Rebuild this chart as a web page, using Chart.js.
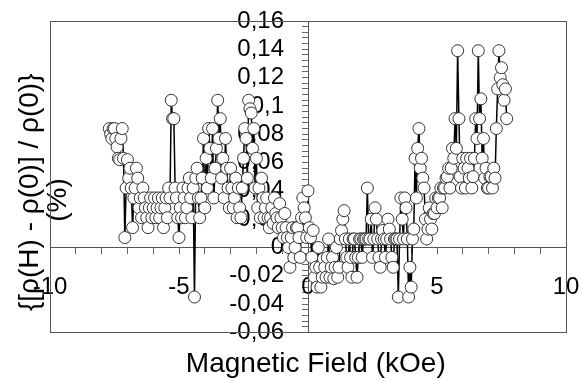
<!DOCTYPE html>
<html>
<head>
<meta charset="utf-8">
<script src="https://cdn.jsdelivr.net/npm/chart.js@4.4.1/dist/chart.umd.min.js"></script>
<style>
html,body{margin:0;padding:0;background:#fff;}
#wrap{width:581px;height:381px;}
</style>
</head>
<body>
<div id="wrap"><canvas id="c" width="581" height="381"></canvas></div>
<script>
// Magnetic field (kOe)
const fieldKOe = [
 -7.7,-7.65,-7.6,-7.55,-7.5,-7.45,-7.4,-7.35,-7.3,-7.25,-7.2,-7.15,-7.1,-7.05,
 -7.0,-6.95,-6.9,-6.85,-6.8,-6.75,-6.7,-6.65,-6.6,-6.55,-6.5,-6.45,-6.4,-6.35,-6.3,-6.25,-6.2,-6.15,-6.1,-6.05,
 -6.0,-5.95,-5.9,-5.85,-5.8,-5.75,-5.7,-5.65,-5.6,-5.55,-5.5,-5.45,-5.4,-5.35,-5.3,-5.25,-5.2,-5.15,-5.1,-5.05,
 -5.0,-4.95,-4.9,-4.85,-4.8,-4.75,-4.7,-4.65,-4.6,-4.55,-4.5,-4.45,-4.4,-4.35,-4.3,-4.25,-4.2,-4.15,-4.1,-4.05,
 -4.0,-3.95,-3.9,-3.85,-3.8,-3.75,-3.7,-3.65,-3.6,-3.55,-3.5,-3.45,-3.4,-3.35,-3.3,-3.25,-3.2,-3.15,-3.1,-3.05,
 -3.0,-2.95,-2.9,-2.85,-2.8,-2.75,-2.7,-2.65,-2.6,-2.55,-2.5,-2.45,-2.4,-2.35,-2.3,-2.25,-2.2,-2.15,-2.1,-2.05,
 -2.0,-1.95,-1.9,-1.85,-1.8,-1.75,-1.7,-1.65,-1.6,-1.55,-1.5,-1.45,-1.4,-1.35,-1.3,-1.25,-1.2,-1.15,-1.1,-1.05,
 -1.0,-0.95,-0.9,-0.85,-0.8,-0.75,-0.7,-0.65,-0.6,-0.55,-0.5,-0.45,-0.4,-0.35,-0.3,-0.25,-0.2,-0.15,-0.1,-0.05,
 0.0,0.05,0.1,0.15,0.2,0.25,0.3,0.35,0.4,0.45,0.5,0.55,0.6,0.65,0.7,0.75,0.8,0.85,0.9,0.95,
 1.0,1.05,1.1,1.15,1.2,1.25,1.3,1.35,1.4,1.45,1.5,1.55,1.6,1.65,1.7,1.75,1.8,1.85,1.9,1.95,
 2.0,2.05,2.1,2.15,2.2,2.25,2.3,2.35,2.4,2.45,2.5,2.55,2.6,2.65,2.7,2.75,2.8,2.85,2.9,2.95,
 3.0,3.05,3.1,3.15,3.2,3.25,3.3,3.35,3.4,3.45,3.5,3.55,3.6,3.65,3.7,3.75,3.8,3.85,3.9,3.95,
 4.0,4.05,4.1,4.15,4.2,4.25,4.3,4.35,4.4,4.45,4.5,4.55,4.6,4.65,4.7,4.75,4.8,4.85,4.9,4.95,
 5.0,5.05,5.1,5.15,5.2,5.25,5.3,5.35,5.4,5.45,5.5,5.55,5.6,5.65,5.7,5.75,5.8,5.85,5.9,5.95,
 6.0,6.05,6.1,6.15,6.2,6.25,6.3,6.35,6.4,6.45,6.5,6.55,6.6,6.65,6.7,6.75,6.8,6.85,6.9,6.95,
 7.0,7.05,7.1,7.15,7.2,7.25,7.3,7.35,7.4,7.45,7.5,7.55,7.6,7.65,7.7
];
// {[rho(H) - rho(0)] / rho(0)} in %
const deltaRho = [
 0.084,0.080,0.077,0.084,0.084,0.077,0.071,0.063,0.062,0.077,0.084,0.063,0.007,0.042,
 0.062,0.049,0.056,0.042,0.014,0.035,0.042,0.056,0.049,0.028,0.035,0.021,0.042,0.035,0.028,0.021,0.014,0.028,0.035,0.021,
 0.028,0.035,0.021,0.028,0.035,0.021,0.028,0.035,0.014,0.028,0.035,0.021,0.042,0.035,0.104,0.091,0.091,0.042,0.035,0.021,
 0.007,0.028,0.021,0.042,0.035,0.021,0.028,0.042,0.049,0.035,0.021,0.042,-0.035,0.049,0.056,0.035,0.021,0.035,0.049,0.077,
 0.028,0.063,0.042,0.084,0.070,0.049,0.084,0.035,0.056,0.070,0.104,0.077,0.091,0.049,0.063,0.035,0.077,0.056,0.042,0.028,
 0.056,0.042,0.028,0.035,0.049,0.021,0.042,0.028,0.021,0.042,0.063,0.084,0.077,0.049,0.104,0.098,0.095,0.070,0.084,0.042,
 0.063,0.028,0.042,0.021,0.049,0.035,0.021,0.028,0.035,0.021,0.014,0.021,0.028,0.017,0.035,0.024,0.021,0.014,0.031,0.021,
 0.014,0.007,0.024,0.014,0.007,0.000,-0.014,0.007,0.014,-0.007,0.000,0.014,0.014,0.007,-0.007,0.021,0.035,0.028,0.021,0.007,
 0.040,0.014,0.007,-0.007,0.012,-0.021,-0.014,-0.028,0.000,-0.014,-0.028,-0.021,-0.008,-0.014,-0.021,-0.007,0.006,-0.021,-0.014,-0.007,
 -0.022,-0.014,0.000,-0.021,-0.014,0.006,0.012,0.020,0.026,0.006,-0.007,-0.014,0.006,-0.007,-0.021,0.006,0.006,-0.007,-0.021,-0.007,
 0.006,0.006,-0.007,0.006,0.006,0.006,0.042,0.006,0.006,0.020,-0.007,0.006,0.028,0.020,0.006,-0.007,-0.014,0.006,0.012,0.006,
 -0.007,0.006,0.020,0.013,0.006,-0.007,-0.014,0.006,0.006,0.006,-0.035,0.006,0.035,0.020,0.006,0.035,0.028,0.006,-0.035,-0.014,
 -0.028,0.006,0.013,0.063,0.035,0.070,0.084,0.056,0.063,0.049,0.042,0.020,0.006,0.013,0.028,0.020,0.013,0.024,0.024,0.035,
 0.028,0.035,0.035,0.042,0.028,0.042,0.042,0.049,0.050,0.056,0.042,0.056,0.070,0.063,0.091,0.070,0.139,0.091,0.050,0.042,
 0.063,0.056,0.042,0.063,0.056,0.049,0.063,0.042,0.050,0.063,0.091,0.077,0.139,0.091,0.105,0.063,0.077,0.049,0.056,0.042,
 0.042,0.050,0.050,0.042,0.056,0.049,0.084,0.112,0.139,0.120,0.127,0.115,0.104,0.112,0.091
];
const xMajorTicks = [-10, -5, 0, 5, 10];
const xTickLabels = ['-10', '-5', '0', '5', '10'];
const yMajorTicks = [-0.06, -0.04, -0.02, 0, 0.02, 0.04, 0.06, 0.08, 0.1, 0.12, 0.14, 0.16];
const yTickLabels = ['-0,06', '-0,04', '-0,02', '0', '0,02', '0,04', '0,06', '0,08', '0,1', '0,12', '0,14', '0,16'];
const xTitle = '  Magnetic Field (kOe)';
const yTitleLines = ['{[ρ(H) - ρ(0)] / ρ(0)}    ', '(%)      '];

const points = fieldKOe.map((x, i) => ({ x: x, y: deltaRho[i] }));

function labelFor(v, majors, labels, suffix) {
  for (let i = 0; i < majors.length; i++) {
    if (Math.abs(v - majors[i]) < 1e-6) return labels[i] + suffix;
  }
  return '';
}

const framePlugin = {
  id: 'frame',
  beforeDatasetsDraw(chart) {
    const { ctx, chartArea: a } = chart;
    ctx.save();
    ctx.strokeStyle = '#555';
    ctx.lineWidth = 1;
    ctx.strokeRect(Math.round(a.left) + 0.5, Math.round(a.top) + 0.5,
                   Math.round(a.right - a.left), Math.round(a.bottom - a.top));
    ctx.restore();
  }
};

const tickFont = { family: 'Liberation Sans', size: 24 };

new Chart(document.getElementById('c'), {
  type: 'scatter',
  data: {
    datasets: [{
      data: points,
      showLine: true,
      borderColor: '#000',
      borderWidth: 1.5,
      pointRadius: 6,
      pointBackgroundColor: '#fff',
      pointBorderColor: '#333',
      pointBorderWidth: 1,
      tension: 0
    }]
  },
  options: {
    responsive: false,
    animation: false,
    devicePixelRatio: 1,
    layout: { padding: { top: 21, right: 15, left: 0, bottom: 0 } },
    plugins: { legend: { display: false }, tooltip: { enabled: false } },
    scales: {
      x: {
        type: 'linear', position: { y: 0 }, min: -10, max: 10, z: 1,
        afterFit: (s) => { s.paddingLeft = 0; s.paddingRight = 0; },
        ticks: {
          stepSize: 1, autoSkip: false, maxRotation: 0, padding: 20, color: '#000', font: tickFont,
          callback: (v) => labelFor(v, xMajorTicks, xTickLabels, '')
        },
        grid: { drawOnChartArea: false, drawTicks: true, tickLength: 6, color: '#666' },
        border: { display: true, color: '#555', width: 1 }
      },
      y: {
        type: 'linear', position: { x: 0 }, min: -0.06, max: 0.16, z: 1,
        ticks: {
          stepSize: 0.004, autoSkip: false, color: '#000', font: tickFont,
          callback: (v) => labelFor(v, yMajorTicks, yTickLabels, '\u2002\u2002')
        },
        grid: { drawOnChartArea: false, drawTicks: true, tickLength: 6, color: '#666' },
        border: { display: true, color: '#555', width: 1 }
      },
      x2: {
        type: 'linear', position: 'bottom', display: true,
        ticks: { display: false }, grid: { display: false, drawTicks: false }, border: { display: false },
        title: { display: true, text: xTitle, color: '#000',
                 font: { family: 'Liberation Sans', size: 28 }, padding: { top: 15, bottom: 0 } }
      },
      y2: {
        type: 'linear', position: 'left', display: true,
        ticks: { display: false }, grid: { display: false, drawTicks: false }, border: { display: false },
        title: { display: true, text: yTitleLines, color: '#000',
                 font: { family: 'Liberation Sans', size: 28, lineHeight: 1.0 }, padding: { top: 16, bottom: -22 } }
      }
    }
  },
  plugins: [framePlugin]
});
</script>
</body>
</html>
